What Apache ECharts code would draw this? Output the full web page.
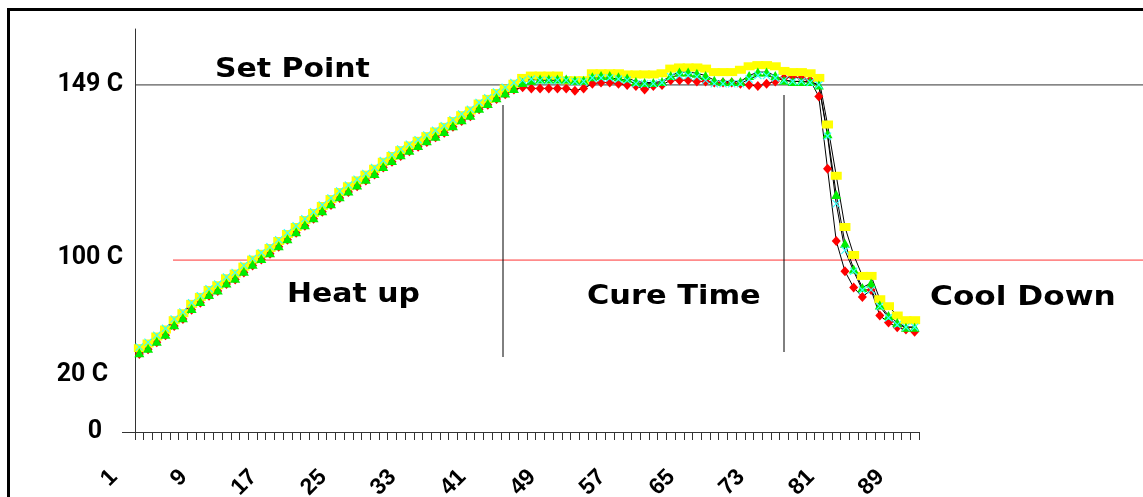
<!DOCTYPE html>
<html lang="en">
<head>
    <meta charset="UTF-8">
    <title>Cure profile</title>
    <script src="https://cdn.jsdelivr.net/npm/echarts@6/dist/echarts.min.js"></script>
    <style>
        html, body { margin: 0; padding: 0; background: #fff; }
    </style>
</head>
<body>
<div id="main" style="width: 1143px;height: 497px;"></div>
<script>
    // x categories 1..90
    var categories = []
    for (var n = 1; n <= 90; n++) categories.push(String(n))

    // y axis: only a few hand placed labels
    var yTickValues = [0, 24.5, 74.7, 149]
    var yTickLabels = ['0', '20 C', '100 C', '149 C']
    var setPoint = 149
    var redLineValue = 73.8

    // four thermocouples
    var redValues = [
        33.5, 35.5, 38.5, 41.5, 45.5, 48.5, 52.5, 55.5, 58.5, 60.5,
        63.5, 65.5, 68.5, 71.5, 74, 76.5, 79.5, 82.5, 85.5, 88.5,
        91.5, 94.5, 97.5, 100.5, 103, 105.5, 108, 110.5, 113.5, 116,
        118.5, 120.5, 122.5, 124.5, 126.5, 128.5, 131, 133.5, 135.5, 138.5,
        140.5, 143, 145, 147,
        148, 147.5, 147.5, 147.5, 147.5, 147.5, 146.5, 147.5,
        149.5, 150, 150, 149.5, 149, 148.5, 147, 148.5, 149,
        151, 151, 151, 150.5, 150.5, 150, 150, 150, 149.5,
        149, 148.5, 149.5, 150.5, 152, 152.5, 152, 151,
        144, 113, 82, 69, 62, 58, 61, 50, 47, 45, 44, 43
    ]
    var yellowValues = [
        36, 38, 41, 44, 48, 51, 55, 58, 61, 63,
        66, 68, 71, 74, 76.5, 79, 82, 85, 88, 91,
        94, 97, 100, 103, 105.5, 108, 110.5, 113, 116, 118.5,
        121, 123, 125, 127, 129, 131, 133.5, 136, 138, 141,
        143, 145.5, 147.5, 149.5,
        152, 153, 153, 153, 153, 151, 151, 151,
        154, 154, 154, 154, 153.5, 153.5, 153.5, 153.5, 154,
        156, 156.5, 156.5, 156.5, 156, 154.5, 154.5, 154.5, 155.5,
        157, 157.5, 157.5, 157, 155, 154.5, 154.5, 154,
        152, 132, 110, 88, 76, 67, 67, 57, 54, 50, 48, 48
    ]
    var greenValues = [
        34, 36, 39, 42, 46, 49, 53, 56, 59, 61,
        64, 66, 69, 72, 74.5, 77, 80, 83, 86, 89,
        92, 95, 98, 101, 103.5, 106, 108.5, 111, 114, 116.5,
        119, 121, 123, 125, 127, 129, 131.5, 134, 136, 139,
        141, 143.5, 145.5, 147.5,
        150, 151, 151.5, 151.5, 151.5, 151.5, 151, 151,
        152.5, 153, 153, 152.5, 152, 150.5, 150, 150, 150.5,
        153, 154.5, 154.5, 154, 153, 151, 150.5, 150.5, 150.5,
        153, 154.5, 154.5, 153, 151, 150.5, 150.5, 150.5,
        149, 128, 102, 81, 70, 62, 64, 54.5, 50, 47, 45, 45
    ]
    var cyanValues = [
        36.5, 38.5, 41.5, 44.5, 48.5, 51.5, 55.5, 58.5, 61.5, 63.5,
        66.5, 68.5, 71.5, 74.5, 77, 79.5, 82.5, 85.5, 88.5, 91.5,
        94.5, 97.5, 100.5, 103.5, 106, 108.5, 111, 113.5, 116.5, 119,
        121.5, 123.5, 125.5, 127.5, 129.5, 131.5, 134, 136.5, 138.5, 141.5,
        143.5, 146, 148, 150,
        151, 151.5, 151, 151, 151, 151, 150.5, 150.5,
        152, 152, 152, 151.5, 151, 149.5, 149.5, 149.5, 150,
        152.5, 153, 153, 152.5, 151, 149.5, 149.5, 149.5, 149.5,
        151.5, 153, 153, 152, 151, 150.5, 150.5, 150,
        149, 127, 98, 78, 69, 61, 61, 54, 49, 46, 45, 45
    ]

    var crossPath = 'path://M0,1L1,0L5,4L9,0L10,1L6,5L10,9L9,10L5,6L1,10L0,9L4,5Z'
    var labelFont = 'Roboto, "Liberation Sans", sans-serif'
    var noteFont = '"DejaVu Sans", Verdana, sans-serif'

    function tc(name, data, color, symbol, size) {
        return {
            name: name,
            type: 'line',
            data: data,
            symbol: symbol,
            symbolSize: size,
            showAllSymbol: true,
            lineStyle: {color: '#000', width: 1},
            itemStyle: {color: color, borderWidth: 0},
            emphasis: {disabled: true}
        }
    }

    var mChart = echarts.init(document.getElementById('main'))
    var option = {
        animation: false,
        backgroundColor: '#fff',
        grid: {left: 135, right: 224, top: 29, bottom: 65, containLabel: false, outerBoundsMode: 'none'},
        xAxis: {
            type: 'category',
            data: categories,
            boundaryGap: true,
            axisLine: {lineStyle: {color: '#333', width: 1}},
            axisTick: {show: true, interval: 0, length: 8, lineStyle: {color: '#333', width: 1}},
            axisLabel: {
                interval: 7,
                rotate: 45,
                margin: 16,
                padding: [0, 36, 0, 0],
                color: '#000',
                fontFamily: '"Liberation Sans", Arial, sans-serif',
                fontWeight: 'bold',
                fontSize: 23
            }
        },
        yAxis: {
            type: 'value',
            min: 0,
            max: 173,
            splitLine: {show: false},
            axisLine: {show: true, lineStyle: {color: '#333', width: 1}},
            axisTick: {show: true, customValues: [0], length: 13, lineStyle: {color: '#333'}},
            axisLabel: {
                customValues: yTickValues,
                margin: 12,
                color: '#000',
                fontFamily: labelFont,
                fontWeight: 'bold',
                fontSize: 25,
                formatter: function (v) {
                    var k = yTickValues.indexOf(v)
                    var s = k < 0 ? '' : yTickLabels[k]
                    if (s === '0') return '{z|' + s + '}'
                    if (s === '20 C') return '{t|' + s + '}'
                    return s
                },
                rich: {
                    z: {padding: [0, 21, 0, 0], fontSize: 25, fontWeight: 'bold', fontFamily: labelFont, color: '#000'},
                    t: {padding: [0, 15, 0, 0], fontSize: 25, fontWeight: 'bold', fontFamily: labelFont, color: '#000'}
                }
            }
        },
        series: [
            tc('TC1', redValues, '#ff0000', 'diamond', [9, 10]),
            tc('TC2', yellowValues, '#ffff00', 'rect', [11, 8]),
            tc('TC3', greenValues, '#00ee00', 'triangle', [10, 9]),
            tc('TC4', cyanValues, '#33ffff', crossPath, 8)
        ]
    }
    mChart.setOption(option)

    // reference lines and notes drawn over the plot
    var ySet = mChart.convertToPixel({yAxisIndex: 0}, setPoint)
    var yRed = mChart.convertToPixel({yAxisIndex: 0}, redLineValue)
    var note = function (txt, x, y, sx) {
        return {
            type: 'text', x: x, y: y, scaleX: sx,
            style: {text: txt, fill: '#000', font: 'bold 26px ' + noteFont, textVerticalAlign: 'middle'}
        }
    }
    mChart.setOption({
        graphic: [
            {type: 'rect', shape: {x: 8.5, y: 9.5, width: 1300, height: 700}, style: {fill: null, stroke: '#000', lineWidth: 3}, silent: true},
            {type: 'line', shape: {x1: 135, y1: ySet, x2: 1143, y2: ySet}, style: {stroke: '#333', lineWidth: 1}},
            {type: 'line', shape: {x1: 173, y1: yRed, x2: 1143, y2: yRed}, style: {stroke: '#ff3333', lineWidth: 1}},
            {type: 'line', shape: {x1: 503, y1: 105, x2: 503, y2: 357}, style: {stroke: '#000', lineWidth: 1}},
            {type: 'line', shape: {x1: 784, y1: 95, x2: 784, y2: 352}, style: {stroke: '#000', lineWidth: 1}},
            note('Set Point', 215, 70, 1.15),
            note('Heat up', 287, 295, 1.15),
            note('Cure Time', 587, 297, 1.17),
            note('Cool Down', 930, 298, 1.2)
        ]
    })
</script>
</body>
</html>
